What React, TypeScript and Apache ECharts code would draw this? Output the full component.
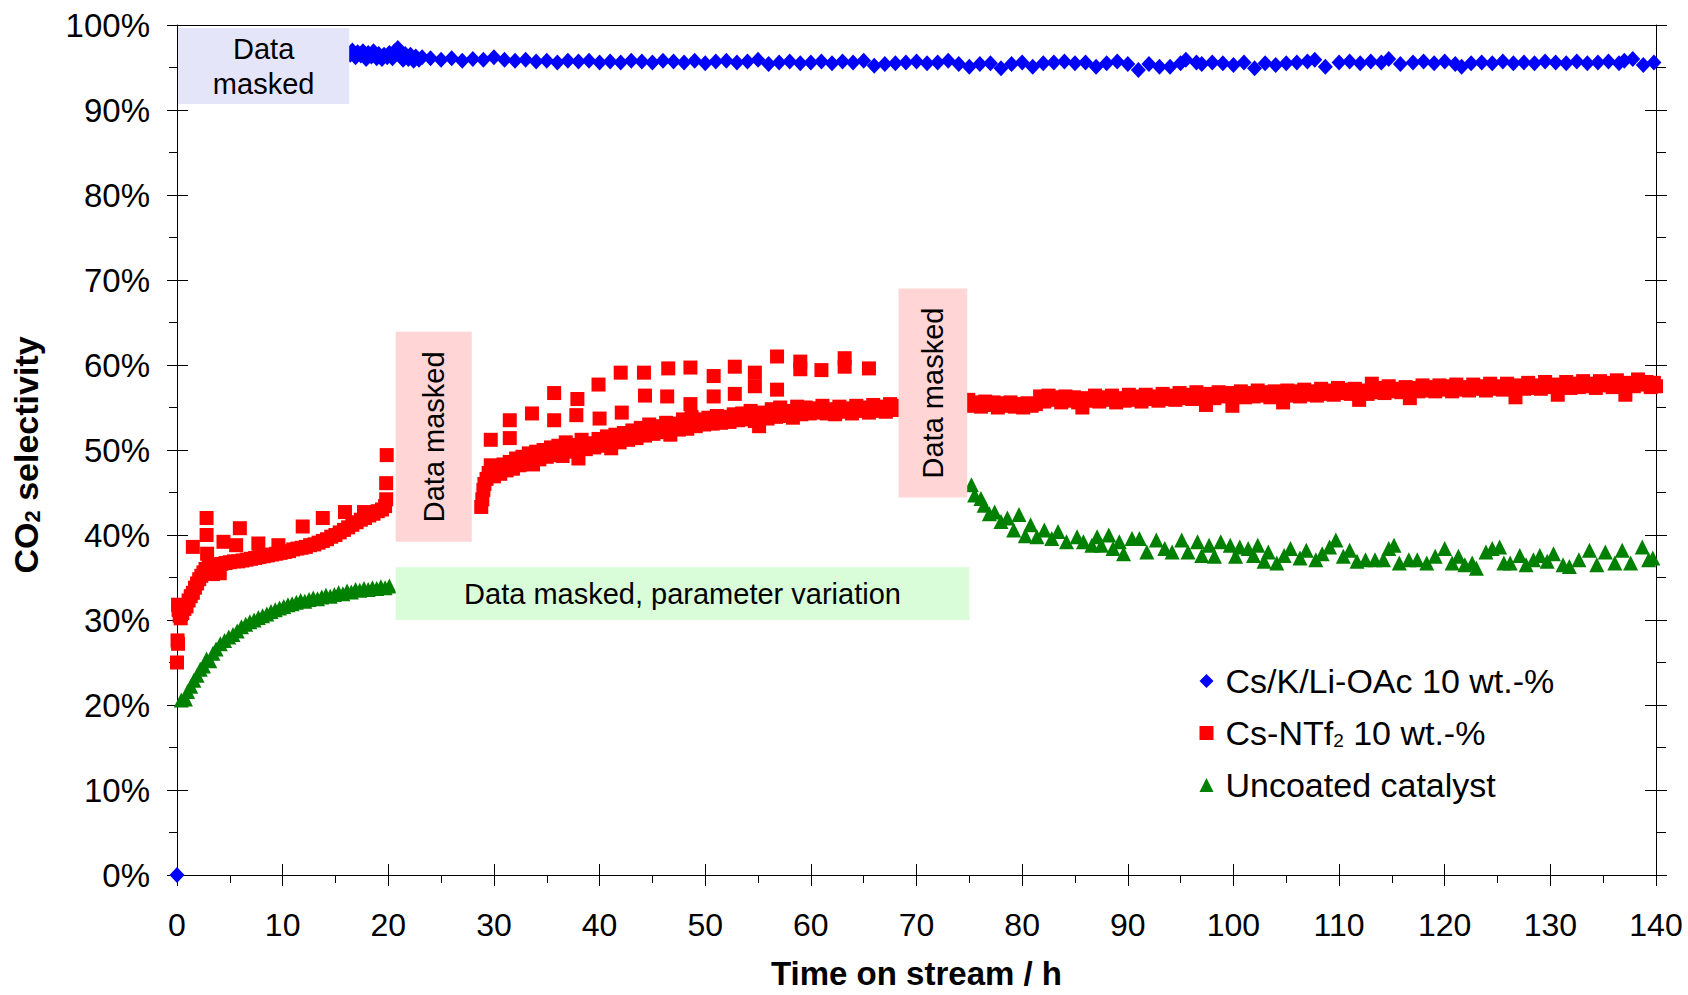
import React, { useEffect, useRef } from 'react';
import * as echarts from 'echarts';

const FONT = '"Liberation Sans", Arial, Helvetica, sans-serif';

// Axis ranges
const X_MIN = 0;
const X_MAX = 140;
const X_STEP = 10;
const Y_MIN = 0;
const Y_MAX = 100;
const Y_STEP = 10;

const seriesNames = ['Cs/K/Li-OAc 10 wt.-%', 'Cs-NTf2 10 wt.-%', 'Uncoated catalyst'];

// Cs/K/Li-OAc 10 wt.-%  [time on stream h, CO2 selectivity %]
const blueData: [number, number][] = [
  [0, 0],
  [16.4, 96.5], [16.6, 97.0], [16.9, 96.2], [17.1, 96.8], [17.4, 96.4], [17.6, 96.9], [17.9, 96.0], [18.1, 96.7],
  [18.4, 96.3], [18.6, 96.9], [18.9, 96.1], [19.1, 96.6], [19.4, 96.0], [19.6, 96.5], [19.9, 96.2], [20.1, 96.7],
  [20.4, 96.1], [20.6, 96.9], [20.9, 97.3], [21.1, 96.4], [21.4, 95.9], [21.6, 96.6], [21.9, 96.0], [22.1, 96.5],
  [22.4, 95.8], [22.6, 96.3], [22.9, 95.9], [23.2, 96.2],
  [24, 96.1], [25, 95.9], [26, 96.1], [27, 95.8], [28, 96.0], [29, 95.9], [30, 96.2], [31, 95.9], [32, 95.8],
  [33, 95.9], [34, 95.7], [35, 95.8], [36, 95.6], [37, 95.8], [38, 95.7], [39, 95.8], [40, 95.6], [41, 95.7],
  [42, 95.6], [43, 95.8], [44, 95.7], [45, 95.6], [46, 95.8], [47, 95.7], [48, 95.6], [49, 95.8], [50, 95.5],
  [51, 95.7], [52, 95.8], [53, 95.6], [54, 95.7], [55, 95.9], [56, 95.4], [57, 95.6], [58, 95.7], [59, 95.5],
  [60, 95.6], [61, 95.7], [62, 95.5], [63, 95.7], [64, 95.6], [65, 95.8], [66, 95.2], [67, 95.4], [68, 95.5],
  [69, 95.6], [70, 95.7], [71, 95.5], [72, 95.6], [73, 95.8], [74, 95.4], [75, 95.1], [76, 95.4], [77, 95.5],
  [78, 94.9], [79, 95.4], [80, 95.6], [81, 95.1], [82, 95.5], [83, 95.6], [84, 95.7], [85, 95.5], [86, 95.6],
  [87, 95.1], [88, 95.5], [89, 95.7], [90, 95.4], [91, 94.7], [92, 95.4], [93, 95.1], [94, 95.1], [95, 95.5],
  [95.5, 95.9], [96.5, 95.6], [97, 95.4], [98, 95.6], [99, 95.5], [100, 95.3], [101, 95.6], [102, 94.9],
  [103, 95.5], [104, 95.3], [105, 95.5], [106, 95.6], [107, 95.7], [107.7, 95.9], [108.7, 95.1], [110, 95.6],
  [111, 95.7], [112, 95.5], [113, 95.7], [114, 95.6], [114.7, 96.0], [115.8, 95.4], [117, 95.6], [118, 95.7],
  [119, 95.5], [120, 95.7], [121, 95.4], [121.6, 95.1], [122.5, 95.5], [123.5, 95.6], [124.5, 95.5], [125.5, 95.7],
  [126.5, 95.5], [127.5, 95.6], [128.5, 95.5], [129.5, 95.7], [130.5, 95.6], [131.5, 95.5], [132.5, 95.7],
  [133.5, 95.5], [134.5, 95.6], [135.5, 95.7], [136.5, 95.5], [137, 95.8], [137.8, 96.0], [138.8, 95.3], [139.8, 95.6],
];

// Cs-NTf2 10 wt.-%, first period (0-20 h)
const redEarly: [number, number][] = [
  [0.0, 25.0], [0.05, 27.6], [0.1, 27.2], [0.1, 31.8], [0.15, 31.2], [0.25, 30.5], [0.35, 30.2], [0.5, 30.8],
  [0.7, 31.3], [0.9, 31.6], [1.1, 32.3], [1.3, 32.8], [1.5, 33.2], [1.5, 38.6], [1.7, 33.8], [1.9, 34.3],
  [2.1, 34.8], [2.3, 35.2], [2.5, 35.6], [2.7, 36.0], [2.8, 42.0], [2.8, 40.0], [2.85, 37.8], [3.0, 36.4],
  [3.2, 35.7], [3.4, 35.4], [3.6, 36.2], [3.8, 36.5], [4.05, 35.5], [4.2, 36.6], [4.4, 39.2], [4.6, 36.7],
  [5.0, 36.8], [5.4, 36.9], [5.6, 38.8], [5.8, 36.9], [5.95, 40.8], [6.2, 37.0], [6.6, 37.1], [7.0, 37.2],
  [7.4, 37.3], [7.7, 39.0], [7.8, 37.4], [8.2, 37.5], [8.6, 37.6], [9.0, 37.7], [9.4, 37.8], [9.6, 38.8],
  [9.8, 37.9], [10.2, 38.0], [10.6, 38.1], [11.0, 38.3], [11.4, 38.4], [11.9, 41.0], [11.8, 38.5], [12.2, 38.6],
  [12.6, 38.8], [13.0, 38.9], [13.4, 39.1], [13.8, 42.0], [13.8, 39.3], [14.2, 39.5], [14.6, 39.8], [15.0, 40.0],
  [15.4, 40.3], [15.9, 42.7], [15.8, 40.6], [16.2, 40.9], [16.6, 41.2], [17.0, 41.5], [17.4, 41.8], [17.7, 42.7],
  [17.8, 42.0], [18.2, 42.3], [18.6, 42.5], [19.0, 42.8], [19.4, 43.0], [19.7, 43.4], [19.8, 44.2], [19.8, 46.1],
  [19.85, 49.4],
];

// Cs-NTf2 10 wt.-%, second period (29-68 h), dense band
const redMid: [number, number][] = [
  [28.8, 43.3], [28.9, 44.2], [29.0, 45.3], [29.1, 46.0], [29.3, 46.6], [29.5, 47.3], [29.7, 48.2], [30.0, 46.9],
  [30.3, 47.8], [30.6, 47.2], [30.9, 48.3], [31.2, 47.6], [31.5, 48.6], [31.8, 47.8], [32.1, 49.0], [32.4, 48.2],
  [32.7, 49.2], [33.0, 48.5], [33.3, 49.6], [33.7, 48.3], [34.0, 49.8], [34.3, 48.9], [34.7, 50.0], [35.0, 49.2],
  [35.4, 50.3], [35.7, 49.4], [36.1, 50.5], [36.5, 49.3], [36.8, 50.9], [37.2, 49.8], [37.6, 50.6], [38.0, 49.0],
  [38.3, 51.2], [38.7, 50.1], [39.1, 50.8], [39.5, 50.3], [39.9, 51.3], [40.3, 50.5], [40.7, 51.6], [41.1, 50.2],
  [41.5, 51.8], [41.9, 50.9], [42.3, 52.0], [42.7, 51.2], [43.1, 52.3], [43.5, 51.4], [43.9, 52.6], [44.3, 51.7],
  [44.7, 53.0], [45.1, 51.9], [45.5, 52.8], [45.9, 52.1], [46.3, 53.2], [46.7, 51.8], [47.1, 53.1], [47.5, 52.4],
  [47.9, 53.6], [48.3, 52.5], [48.7, 53.9], [49.1, 52.8], [49.5, 53.6], [49.9, 53.0], [50.3, 53.8], [50.7, 53.1],
  [51.1, 54.0], [51.5, 53.2], [51.9, 53.9], [52.3, 53.3], [52.7, 54.2], [53.1, 53.5], [53.5, 54.3], [53.9, 53.6],
  [54.3, 54.6], [54.7, 53.4], [55.1, 52.8], [55.5, 54.4], [55.9, 53.7], [56.3, 54.8], [56.7, 53.9], [57.1, 55.0],
  [57.5, 54.0], [57.9, 54.6], [58.3, 53.8], [58.7, 55.1], [59.1, 54.2], [59.5, 55.0], [59.9, 54.3], [60.3, 54.9],
  [60.7, 54.4], [61.1, 55.2], [61.5, 54.3], [61.9, 54.8], [62.3, 54.2], [62.7, 55.1], [63.1, 54.5], [63.5, 54.9],
  [63.9, 54.3], [64.3, 55.2], [64.7, 54.6], [65.1, 55.0], [65.5, 54.4], [65.9, 55.3], [66.3, 54.6], [66.7, 55.1],
  [67.1, 54.5], [67.5, 55.4], [67.9, 54.7], [68.2, 55.2],
];

// Cs-NTf2 10 wt.-%, second period, scattered upper points
const redOutliers: [number, number][] = [
  [29.7, 51.2], [31.5, 53.5], [31.5, 51.4], [33.6, 54.3], [35.7, 56.7], [35.7, 53.5], [37.9, 56.0], [37.8, 54.1],
  [39.9, 57.7], [40.0, 53.7], [42.0, 59.1], [42.1, 54.4], [44.2, 59.1], [44.3, 56.4], [46.5, 59.6], [46.4, 56.3],
  [48.6, 59.7], [48.6, 55.4], [50.8, 58.7], [50.8, 56.3], [52.8, 59.8], [52.8, 56.6], [54.7, 59.1], [54.7, 57.5],
  [56.8, 61.0], [56.8, 57.1], [59.0, 60.4], [59.0, 59.5], [61.0, 59.4], [63.2, 60.8], [63.2, 59.8], [65.5, 59.6],
];

// Cs-NTf2 10 wt.-%, third period (75-140 h)
const redLate: [number, number][] = [
  [74.9, 55.9], [75.3, 55.2], [75.7, 55.6], [76.1, 55.1], [76.5, 55.7], [76.9, 55.3], [77.3, 55.6], [77.7, 55.0],
  [78.1, 55.5], [78.5, 55.2], [78.9, 55.6], [79.3, 55.1], [79.7, 55.4], [80.1, 55.0], [80.5, 55.5], [80.9, 55.2],
  [81.3, 55.4], [81.7, 56.3], [82.1, 55.7], [82.5, 56.4], [82.9, 55.9], [83.3, 56.2], [83.7, 55.6], [84.1, 56.3],
  [84.5, 55.8], [84.9, 56.2], [85.3, 55.6], [85.7, 55.0], [86.1, 56.1], [86.5, 55.8], [86.9, 56.4], [87.3, 55.7],
  [87.7, 56.2], [88.1, 55.9], [88.5, 56.4], [88.9, 55.6], [89.3, 56.1], [89.7, 55.8], [90.1, 56.5], [90.5, 55.9],
  [90.9, 56.3], [91.3, 55.7], [91.7, 56.5], [92.1, 56.0], [92.5, 56.3], [92.9, 55.8], [93.3, 56.6], [93.7, 56.0],
  [94.1, 56.4], [94.5, 55.9], [94.9, 56.7], [95.3, 56.1], [95.7, 56.5], [96.1, 56.0], [96.5, 56.8], [96.9, 56.2],
  [97.4, 55.3], [97.8, 56.6], [98.2, 56.1], [98.6, 56.8], [99.0, 56.3], [99.4, 56.7], [99.9, 55.2], [100.3, 56.4],
  [100.7, 56.9], [101.1, 56.2], [101.5, 56.7], [101.9, 56.3], [102.3, 57.0], [102.7, 56.4], [103.1, 56.8], [103.5, 56.2],
  [103.9, 56.9], [104.3, 56.5], [104.7, 55.6], [105.1, 57.0], [105.5, 56.4], [105.9, 56.9], [106.3, 56.3], [106.7, 57.1],
  [107.1, 56.5], [107.5, 56.9], [107.9, 56.4], [108.3, 57.2], [108.7, 56.6], [109.1, 57.0], [109.5, 56.5], [109.9, 57.3],
  [110.3, 56.7], [110.7, 57.1], [111.1, 56.6], [111.5, 57.2], [111.9, 55.9], [112.3, 57.0], [112.7, 56.6], [113.1, 57.8],
  [113.5, 56.8], [113.9, 57.3], [114.3, 56.7], [114.7, 57.5], [115.1, 56.9], [115.5, 57.2], [115.9, 56.8], [116.3, 57.4],
  [116.7, 56.1], [117.1, 57.3], [117.5, 56.9], [117.9, 57.6], [118.3, 57.0], [118.7, 57.4], [119.1, 56.9], [119.5, 57.6],
  [119.9, 57.1], [120.3, 57.5], [120.7, 56.9], [121.1, 57.7], [121.5, 57.1], [121.9, 57.4], [122.3, 57.0], [122.7, 57.7],
  [123.1, 57.2], [123.5, 57.5], [123.9, 57.0], [124.3, 57.8], [124.7, 57.2], [125.1, 57.5], [125.5, 57.1], [125.9, 57.8],
  [126.3, 57.3], [126.7, 56.2], [127.1, 57.6], [127.5, 57.2], [127.9, 57.9], [128.3, 57.3], [128.7, 57.6], [129.1, 57.2],
  [129.5, 58.0], [129.9, 57.4], [130.3, 57.7], [130.7, 56.5], [131.1, 57.5], [131.5, 58.0], [131.9, 57.3], [132.3, 57.8],
  [132.7, 57.4], [133.1, 58.1], [133.5, 57.5], [133.9, 57.8], [134.3, 57.3], [134.7, 58.1], [135.1, 57.6], [135.5, 57.9],
  [135.9, 57.4], [136.3, 58.2], [136.7, 57.6], [137.1, 56.5], [137.5, 57.9], [137.9, 57.5], [138.3, 58.3], [138.7, 57.7],
  [139.1, 58.0], [139.5, 57.4], [139.8, 57.9], [140.0, 57.5],
];

// Uncoated catalyst, first period
const greenEarly: [number, number][] = [
  [0.4, 20.6], [0.8, 20.7], [1.0, 21.6], [1.3, 22.2], [1.6, 22.9], [1.9, 23.5], [2.2, 24.2], [2.5, 24.6],
  [2.8, 25.4], [3.1, 25.2], [3.4, 26.1], [3.7, 26.6], [4.1, 27.2], [4.5, 27.6], [4.9, 28.0], [5.3, 28.3],
  [5.7, 28.7], [6.1, 29.2], [6.5, 29.5], [6.9, 29.8], [7.3, 30.0], [7.7, 30.3], [8.1, 30.5], [8.5, 30.7],
  [8.9, 31.0], [9.3, 31.2], [9.7, 31.4], [10.1, 31.6], [10.5, 31.8], [10.9, 31.9], [11.3, 32.1], [11.7, 32.3],
  [12.1, 32.2], [12.5, 32.4], [12.9, 32.6], [13.3, 32.5], [13.7, 32.7], [14.1, 32.9], [14.5, 32.8], [14.9, 33.0],
  [15.3, 33.2], [15.7, 33.1], [16.1, 33.4], [16.5, 33.3], [16.9, 33.6], [17.3, 33.5], [17.7, 33.7], [18.1, 33.6],
  [18.5, 33.8], [18.9, 33.7], [19.3, 33.9], [19.7, 33.8], [20.1, 34.0],
];

// Uncoated catalyst, third period
const greenLate: [number, number][] = [
  [75.2, 45.9], [75.5, 44.7], [76.1, 44.3], [76.4, 43.5], [76.9, 42.5], [77.4, 42.7], [78.0, 41.6], [78.6, 42.0],
  [79.2, 40.6], [79.7, 42.4], [80.3, 39.9], [80.8, 41.2], [81.4, 39.8], [82.1, 40.6], [82.8, 39.6], [83.4, 40.4],
  [84.2, 39.2], [85.2, 39.8], [85.8, 39.2], [86.6, 38.8], [87.1, 39.8], [87.5, 38.8], [88.2, 40.0], [88.6, 38.4],
  [89.2, 39.2], [89.6, 37.8], [90.4, 39.6], [91.1, 39.6], [91.8, 38.0], [92.7, 39.4], [93.5, 38.4], [94.2, 38.0],
  [95.1, 39.4], [95.7, 38.0], [96.6, 39.2], [97.0, 37.6], [97.7, 38.8], [98.2, 37.5], [98.8, 39.2], [99.7, 38.8],
  [100.2, 37.5], [100.6, 38.6], [101.4, 38.4], [101.9, 37.6], [102.3, 38.8], [102.9, 36.9], [103.3, 38.0], [104.1, 36.7],
  [104.8, 37.6], [105.4, 38.4], [106.3, 37.3], [106.9, 38.2], [107.8, 37.1], [108.4, 37.8], [109.1, 38.6], [109.7, 39.4],
  [110.4, 37.5], [111.0, 38.2], [111.7, 36.9], [112.5, 37.1], [113.4, 37.1], [114.2, 37.1], [114.7, 38.4], [115.2, 38.8],
  [115.7, 36.7], [116.6, 37.1], [117.4, 37.1], [118.3, 36.7], [119.1, 37.5], [120.0, 38.4], [120.7, 36.7], [121.3, 37.5],
  [121.9, 36.5], [122.6, 36.7], [123.0, 36.1], [123.9, 38.0], [124.5, 38.4], [125.2, 38.6], [125.6, 36.7], [126.2, 36.7],
  [127.1, 37.6], [127.7, 36.5], [128.4, 37.1], [129.0, 37.6], [129.7, 36.9], [130.3, 37.8], [131.2, 36.5], [131.8, 36.3],
  [132.7, 37.1], [133.7, 38.2], [134.4, 36.5], [135.2, 38.0], [136.1, 36.7], [136.8, 38.2], [137.6, 36.7], [138.7, 38.6],
  [139.3, 37.1], [139.7, 37.3],
];

// Masking boxes, in data units (h, %)
const maskBoxes = [
  { x0: 0.1, x1: 16.3, y0: 90.7, y1: 99.65, fill: '#E5E5FA', text: 'Data\nmasked', vertical: false },
  { x0: 20.7, x1: 27.9, y0: 39.2, y1: 63.9, fill: '#FFD5D5', text: 'Data masked', vertical: true },
  { x0: 68.3, x1: 74.8, y0: 44.4, y1: 69.0, fill: '#FFD5D5', text: 'Data masked', vertical: true },
  { x0: 20.7, x1: 75.0, y0: 30.0, y1: 36.2, fill: '#D9FCD9', text: 'Data masked, parameter variation', vertical: false },
];

const black = { color: '#000', width: 1 };

function buildOption(): any {
  const xBase = { type: 'value', min: X_MIN, max: X_MAX, interval: X_STEP, splitLine: { show: false } };
  const yBase = { type: 'value', min: Y_MIN, max: Y_MAX, interval: Y_STEP, splitLine: { show: false } };
  return {
    animation: false,
    backgroundColor: '#fff',
    grid: { left: 177, top: 25, width: 1479, height: 850, containLabel: false, outerBoundsMode: 'none' },
    legend: {
      orient: 'vertical',
      left: 1194.5,
      top: 659,
      itemWidth: 14,
      itemHeight: 14,
      itemGap: 18,
      selectedMode: false,
      data: [
        { name: seriesNames[0], icon: 'diamond' },
        { name: seriesNames[1], icon: 'rect' },
        { name: seriesNames[2], icon: 'triangle' },
      ],
      formatter: (name: string) => (name === seriesNames[1] ? 'Cs-NTf{sub|2} 10 wt.-%' : name),
      textStyle: {
        fontSize: 34,
        lineHeight: 34,
        fontFamily: FONT,
        color: '#000',
        padding: [0, 0, 0, 7],
        rich: {
          sub: { fontSize: 19, lineHeight: 6, verticalAlign: 'bottom', fontFamily: FONT, color: '#000' },
        },
      },
    },
    xAxis: [
      {
        ...xBase,
        position: 'bottom',
        axisLine: { show: true, onZero: false, lineStyle: black },
        axisTick: { show: true, inside: false, length: 11, lineStyle: black },
        minorTick: { show: true, splitNumber: 2, length: 8, lineStyle: black },
        axisLabel: { fontSize: 32, color: '#000', fontFamily: FONT, margin: 34 },
        name: 'Time on stream / h',
        nameLocation: 'middle',
        nameGap: 83,
        nameTextStyle: { fontSize: 33, fontWeight: 'bold', fontFamily: FONT, color: '#000', lineHeight: 30 },
      },
      {
        ...xBase,
        position: 'bottom',
        axisLine: { show: false, onZero: false },
        axisTick: { show: true, inside: true, length: 11, lineStyle: black },
        axisLabel: { show: false },
      },
      {
        ...xBase,
        position: 'top',
        axisLine: { show: true, onZero: false, lineStyle: black },
        axisTick: { show: false },
        axisLabel: { show: false },
      },
    ],
    yAxis: [
      {
        ...yBase,
        position: 'left',
        axisLine: { show: true, onZero: false, lineStyle: black },
        axisTick: { show: true, inside: false, length: 10, lineStyle: black },
        minorTick: { show: true, splitNumber: 2, length: 8, lineStyle: black },
        axisLabel: { fontSize: 33, color: '#000', fontFamily: FONT, margin: 27, formatter: '{value}%' },
        name: 'CO{sub|2} selectivity',
        nameLocation: 'middle',
        nameGap: 134,
        nameTextStyle: {
          fontSize: 34,
          fontWeight: 'bold',
          fontFamily: FONT,
          color: '#000',
          lineHeight: 34,
          padding: [0, 10, 0, 0],
          rich: {
            sub: { fontSize: 22, fontWeight: 'bold', fontFamily: FONT, color: '#000', lineHeight: 8, verticalAlign: 'bottom' },
          },
        },
      },
      {
        ...yBase,
        position: 'left',
        axisLine: { show: false, onZero: false },
        axisTick: { show: true, inside: true, length: 11, lineStyle: black },
        axisLabel: { show: false },
      },
      {
        ...yBase,
        position: 'right',
        axisLine: { show: true, onZero: false, lineStyle: black },
        axisTick: { show: true, inside: false, length: 11, lineStyle: black },
        minorTick: { show: true, splitNumber: 2, length: 10, lineStyle: black },
        axisLabel: { show: false },
      },
      {
        ...yBase,
        position: 'right',
        axisLine: { show: false, onZero: false },
        axisTick: { show: true, inside: true, length: 11, lineStyle: black },
        axisLabel: { show: false },
      },
    ],
    series: [
      {
        name: seriesNames[0],
        type: 'scatter',
        xAxisIndex: 0,
        yAxisIndex: 0,
        data: blueData,
        symbol: 'diamond',
        symbolSize: [15, 16],
        itemStyle: { color: '#0000FF', opacity: 1 },
        clip: false,
        silent: true,
        z: 3,
      },
      {
        name: seriesNames[1],
        type: 'scatter',
        xAxisIndex: 0,
        yAxisIndex: 0,
        data: [...redEarly, ...redMid, ...redOutliers, ...redLate],
        symbol: 'rect',
        symbolSize: 14,
        itemStyle: { color: '#FF0000', opacity: 1 },
        clip: false,
        silent: true,
        z: 3,
      },
      {
        name: seriesNames[2],
        type: 'scatter',
        xAxisIndex: 0,
        yAxisIndex: 0,
        data: [...greenEarly, ...greenLate],
        symbol: 'triangle',
        symbolSize: 15,
        itemStyle: { color: '#008000', opacity: 1 },
        clip: false,
        silent: true,
        z: 3,
      },
    ],
  };
}

export default function App() {
  const ref = useRef<HTMLDivElement | null>(null);

  useEffect(() => {
    if (!ref.current) return;
    const chart = echarts.init(ref.current, null, { renderer: 'svg', width: 1688, height: 995 });
    chart.setOption(buildOption());

    const toPx = (x: number, y: number) => chart.convertToPixel({ seriesIndex: 0 }, [x, y]) as number[];
    const elements: any[] = [];
    maskBoxes.forEach((b, i) => {
      const p0 = toPx(b.x0, b.y1);
      const p1 = toPx(b.x1, b.y0);
      const cx = (p0[0] + p1[0]) / 2;
      const cy = (p0[1] + p1[1]) / 2;
      elements.push({
        type: 'rect',
        id: 'box' + i,
        z: 100,
        silent: true,
        shape: { x: p0[0], y: p0[1], width: p1[0] - p0[0], height: p1[1] - p0[1] },
        style: { fill: b.fill },
      });
      elements.push({
        type: 'text',
        id: 'txt' + i,
        z: 101,
        silent: true,
        x: cx,
        y: cy,
        rotation: b.vertical ? Math.PI / 2 : 0,
        style: {
          text: b.text,
          fill: '#000',
          font: '29px ' + FONT,
          lineHeight: 35,
          textAlign: 'center',
          textVerticalAlign: 'middle',
          align: 'center',
          verticalAlign: 'middle',
        },
      });
    });
    chart.setOption({ graphic: { elements } });

    return () => {
      chart.dispose();
    };
  }, []);

  return (
    <div
      ref={ref}
      style={{ position: 'absolute', left: 0, top: 0, width: 1688, height: 995, background: '#fff' }}
    />
  );
}
